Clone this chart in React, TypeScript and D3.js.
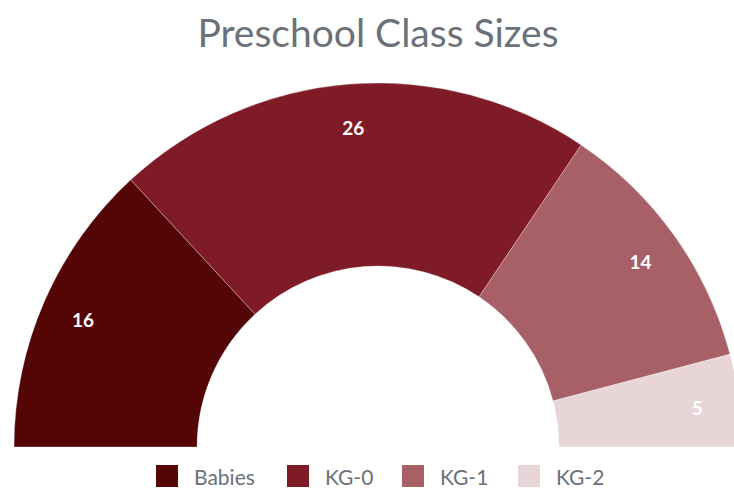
import React from "react";
import * as d3 from "d3";

const categories = ["Babies", "KG-0", "KG-1", "KG-2"];
const values = [16, 26, 14, 5];
const colors = ["#540606", "#7f1a27", "#a66066", "#e7d5d8"];
const title = "Preschool Class Sizes";

export default function App() {
  const W = 734, H = 490;
  const cx = 378, cy = 447;
  const outerR = 364, innerR = 181, labelR = 322;
  const pie = d3.pie<number>().sort(null).startAngle(-Math.PI / 2).endAngle(Math.PI / 2);
  const arcs = pie(values);
  const arc = d3.arc<d3.PieArcDatum<number>>().innerRadius(innerR).outerRadius(outerR);
  const labelArc = d3.arc<d3.PieArcDatum<number>>().innerRadius(labelR).outerRadius(labelR);

  const legendX = [156, 287, 402, 518];
  const legendScale = d3.scalePoint<string>().domain(categories).range([0, 3]);

  return (
    <svg width={W} height={H} style={{ position: "absolute", left: 0, top: 0, overflow: "hidden" }}
      fontFamily="Lato, 'Open Sans', sans-serif">
      <rect width={W} height={H} fill="#fff" />
      <text x={cx} y={47} textAnchor="middle" fontSize={39} fill="#6b7179">{title}</text>
      <g transform={`translate(${cx},${cy})`}>
        {arcs.map((a, i) => (
          <path key={i} d={arc(a) || ""} fill={colors[i]} stroke="#fff" strokeWidth={0.6} strokeOpacity={0.5} />
        ))}
        {arcs.map((a, i) => {
          const [x, y] = labelArc.centroid(a);
          return (
            <text key={i} x={x} y={y + 2} dy="0.36em" textAnchor="middle" fontSize={19} fontWeight="bold" fill="#fff">
              {values[i]}
            </text>
          );
        })}
      </g>
      {categories.map((c, i) => {
        const x = legendX[legendScale(c) as number];
        return (
          <g key={c} transform={`translate(${x},465)`}>
            <rect x={0} y={0} width={22} height={22} fill={colors[i]} />
            <text x={38} y={20} fontSize={21} fill="#6b7179">{c}</text>
          </g>
        );
      })}
    </svg>
  );
}
